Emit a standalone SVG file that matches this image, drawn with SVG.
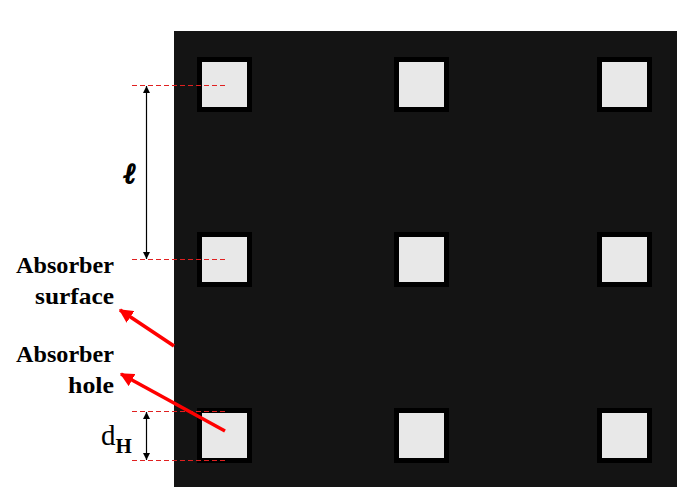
<svg xmlns="http://www.w3.org/2000/svg" width="692" height="502" viewBox="0 0 692 502">
<style>
.hole{fill:#e8e8e8;stroke:#000;stroke-width:5}
.dash{stroke:#e02020;stroke-width:1;stroke-dasharray:5,3;fill:none}
.dim{stroke:#000;stroke-width:1.2;fill:none}
.red{stroke:#ff0000;stroke-width:3.5;fill:none}
.lbl{font-family:"Liberation Serif",serif;font-size:24px;font-weight:bold;fill:#000;text-anchor:end}
</style>
<defs>
<marker id="ab" viewBox="0 0 10 10" refX="10" refY="5" markerWidth="7" markerHeight="8" markerUnits="userSpaceOnUse" orient="auto-start-reverse"><path d="M0,0L10,5L0,10z" fill="#000"/></marker>
<marker id="ar" viewBox="0 0 10 10" refX="9" refY="5" markerWidth="4" markerHeight="4" orient="auto"><path d="M0,0L10,5L0,10z" fill="#ff0000"/></marker>
</defs>
<g id="absorber">
<rect x="174" y="31" width="503" height="456" fill="#141414"/>
<rect class="hole" x="199.5" y="59.5" width="50" height="50"/>
<rect class="hole" x="396.5" y="59.5" width="50" height="50"/>
<rect class="hole" x="599.5" y="59.5" width="50" height="50"/>
<rect class="hole" x="199.5" y="234.5" width="50" height="50"/>
<rect class="hole" x="396.5" y="234.5" width="50" height="50"/>
<rect class="hole" x="599.5" y="234.5" width="50" height="50"/>
<rect class="hole" x="199.5" y="410.5" width="50" height="50"/>
<rect class="hole" x="396.5" y="410.5" width="50" height="50"/>
<rect class="hole" x="599.5" y="410.5" width="50" height="50"/>
</g>
<g id="connectors">
<line class="dash" x1="132" y1="85.5" x2="225" y2="85.5"/>
<line class="dash" x1="132" y1="259.5" x2="225" y2="259.5"/>
<line class="dash" x1="132" y1="411.5" x2="225" y2="411.5"/>
<line class="dash" x1="132" y1="460.5" x2="225" y2="460.5"/>
<line class="dim" x1="146.5" y1="86" x2="146.5" y2="259" marker-start="url(#ab)" marker-end="url(#ab)"/>
<line class="dim" x1="146.5" y1="412" x2="146.5" y2="460" marker-start="url(#ab)" marker-end="url(#ab)"/>
<line class="red" x1="174" y1="346" x2="120" y2="310" marker-end="url(#ar)"/>
<line class="red" x1="225" y1="431" x2="121" y2="374" marker-end="url(#ar)"/>
</g>
<g id="labels">
<text class="lbl" x="114" y="273" textLength="98" lengthAdjust="spacingAndGlyphs">Absorber</text>
<text class="lbl" x="114" y="304" textLength="79" lengthAdjust="spacingAndGlyphs">surface</text>
<text class="lbl" x="114" y="362" textLength="98" lengthAdjust="spacingAndGlyphs">Absorber</text>
<text class="lbl" x="114" y="393" textLength="46" lengthAdjust="spacingAndGlyphs">hole</text>
<text x="130" y="183" font-family="DejaVu Serif,serif" font-size="28" font-weight="bold" font-style="italic" text-anchor="middle" stroke="#000" stroke-width="1.6">ℓ</text>
<text x="101" y="445" font-family="Liberation Serif,serif" font-size="29">d<tspan font-size="21" font-weight="bold" dy="8">H</tspan></text>
</g>
</svg>
